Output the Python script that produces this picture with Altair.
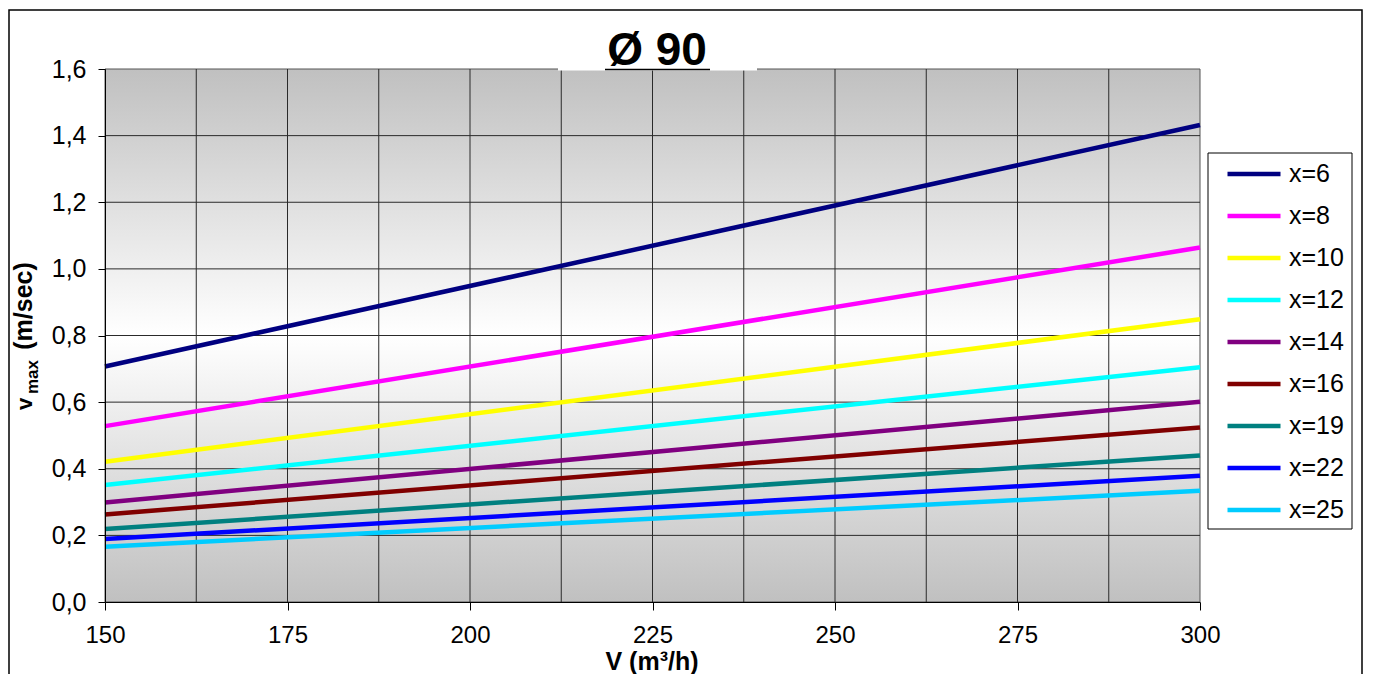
import altair as alt
import pandas as pd

# ---------------- data ----------------
series = ["x=6", "x=8", "x=10", "x=12", "x=14", "x=16", "x=19", "x=22", "x=25"]
colors = ["#000080", "#FF00FF", "#FFFF00", "#00FFFF", "#800080",
          "#800000", "#008080", "#0000FF", "#00CCFF"]
V_values = [150, 300]
v_at_150 = [0.707, 0.528, 0.421, 0.351, 0.299, 0.263, 0.219, 0.189, 0.166]
v_at_300 = [1.432, 1.064, 0.849, 0.705, 0.601, 0.524, 0.440, 0.379, 0.334]

x_ticks = [150, 175, 200, 225, 250, 275, 300]
x_grid = [162.5, 175, 187.5, 200, 212.5, 225, 237.5, 250, 262.5, 275, 287.5]
y_ticks = [0.0, 0.2, 0.4, 0.6, 0.8, 1.0, 1.2, 1.4, 1.6]
y_grid = [0.2, 0.4, 0.6, 0.8, 1.0, 1.2, 1.4]

rows = []
for s, a, b in zip(series, v_at_150, v_at_300):
    rows.append({"series": s, "V": V_values[0], "v": a})
    rows.append({"series": s, "V": V_values[1], "v": b})
df = pd.DataFrame(rows)

W, H = 1095, 533
FONT = "Liberation Sans"

xscale = alt.Scale(domain=[150, 300], nice=False, zero=False)
yscale = alt.Scale(domain=[0, 1.6], nice=False, zero=True)

xaxis = alt.Axis(values=x_ticks, grid=False, title=None, format="d",
                 tickSize=8, tickColor="black", domainColor="black",
                 labelFontSize=24, labelFont=FONT, labelColor="black",
                 labelPadding=13, labelFlush=False, labelOverlap=False,
                 zindex=1)
yaxis = alt.Axis(values=y_ticks, grid=False, title=None,
                 labelExpr="replace(format(datum.value, '.1f'), '.', ',')",
                 tickSize=7, tickColor="black", domainColor="black",
                 labelFontSize=25, labelFont=FONT, labelColor="black",
                 labelPadding=12, labelFlush=False, labelOverlap=False,
                 zindex=1)

one = pd.DataFrame({"k": [0]})

# background gradient of the plot area
bg = alt.Chart(one).mark_rect(
    color=alt.Gradient(
        gradient="linear", x1=0, x2=0, y1=0, y2=1,
        stops=[alt.GradientStop(color="#c0c0c0", offset=0),
               alt.GradientStop(color="#ffffff", offset=0.5),
               alt.GradientStop(color="#c0c0c0", offset=1)]),
    stroke="#555555", strokeWidth=1,
).encode(x=alt.value(0), x2=alt.value(W), y=alt.value(0), y2=alt.value(H))

gridx = alt.Chart(pd.DataFrame({"V": x_grid})).mark_rule(
    color="#2a2a2a", strokeWidth=1
).encode(x=alt.X("V:Q", scale=xscale, axis=xaxis))

gridy = alt.Chart(pd.DataFrame({"v": y_grid})).mark_rule(
    color="#2a2a2a", strokeWidth=1
).encode(y=alt.Y("v:Q", scale=yscale, axis=yaxis))

# legend frame
legend_box = alt.Chart(one).mark_rect(fill="white", stroke="black",
                                      strokeWidth=1).encode(
    x=alt.value(1103), x2=alt.value(1247), y=alt.value(84), y2=alt.value(460))

lines = alt.Chart(df).mark_line(strokeWidth=4.5, strokeCap="butt").encode(
    x=alt.X("V:Q", scale=xscale, axis=xaxis),
    y=alt.Y("v:Q", scale=yscale, axis=yaxis),
    color=alt.Color("series:N", scale=alt.Scale(domain=series, range=colors),
                    legend=alt.Legend(title=None, orient="none",
                                      legendX=1120, legendY=76,
                                      symbolType="stroke", symbolSize=2809,
                                      symbolStrokeWidth=4.5,
                                      labelFontSize=25, labelFont=FONT,
                                      labelColor="black", labelOffset=6,
                                      rowPadding=0, padding=0)),
    detail="series:N",
)

# white box behind title, and short black segment
title_box = alt.Chart(one).mark_rect(color="white").encode(
    x=alt.value(453), x2=alt.value(652), y=alt.value(-40), y2=alt.value(1.5))
title_seg = alt.Chart(one).mark_rule(color="black", strokeWidth=1.5).encode(
    x=alt.value(500), x2=alt.value(605), y=alt.value(0.5))
title = alt.Chart(one).mark_text(
    text="Ø 90", font=FONT, fontSize=46, fontWeight="bold", align="center",
    baseline="alphabetic", color="black"
).encode(x=alt.value(552), y=alt.value(-4))

# axis titles
ytitle_v = alt.Chart(one).mark_text(
    text="v", font=FONT, fontSize=22, fontWeight="bold", angle=270,
    align="left", baseline="alphabetic", color="black"
).encode(x=alt.value(-73), y=alt.value(341))
ytitle_max = alt.Chart(one).mark_text(
    text="max", font=FONT, fontSize=17, fontWeight="bold", angle=270,
    align="left", baseline="alphabetic", color="black"
).encode(x=alt.value(-67), y=alt.value(325))
ytitle_unit = alt.Chart(one).mark_text(
    text="(m/sec)", font=FONT, fontSize=25, fontWeight="bold", angle=270,
    align="center", baseline="alphabetic", color="black"
).encode(x=alt.value(-73), y=alt.value(237))
xtitle = alt.Chart(one).mark_text(
    text="V (m³/h)", font=FONT, fontSize=25, fontWeight="bold",
    align="center", baseline="alphabetic", color="black"
).encode(x=alt.value(547), y=alt.value(601))

# outer frame
frame = alt.Chart(one).mark_rect(fill="transparent", stroke="black",
                                 strokeWidth=1.5).encode(
    x=alt.value(-96), x2=alt.value(1257), y=alt.value(-59), y2=alt.value(680))

chart = alt.layer(
    bg, gridx, gridy, legend_box, lines, title_box, title_seg, title,
    ytitle_v, ytitle_max, ytitle_unit, xtitle, frame
).properties(
    width=W, height=H,
    autosize=alt.AutoSizeParams(type="none"),
    padding={"left": 97, "top": 61, "right": 163, "bottom": 72},
    background="white",
).configure(font=FONT).configure_view(stroke=None)

chart.save("out.html", embed_options={"renderer": "svg", "actions": False})
